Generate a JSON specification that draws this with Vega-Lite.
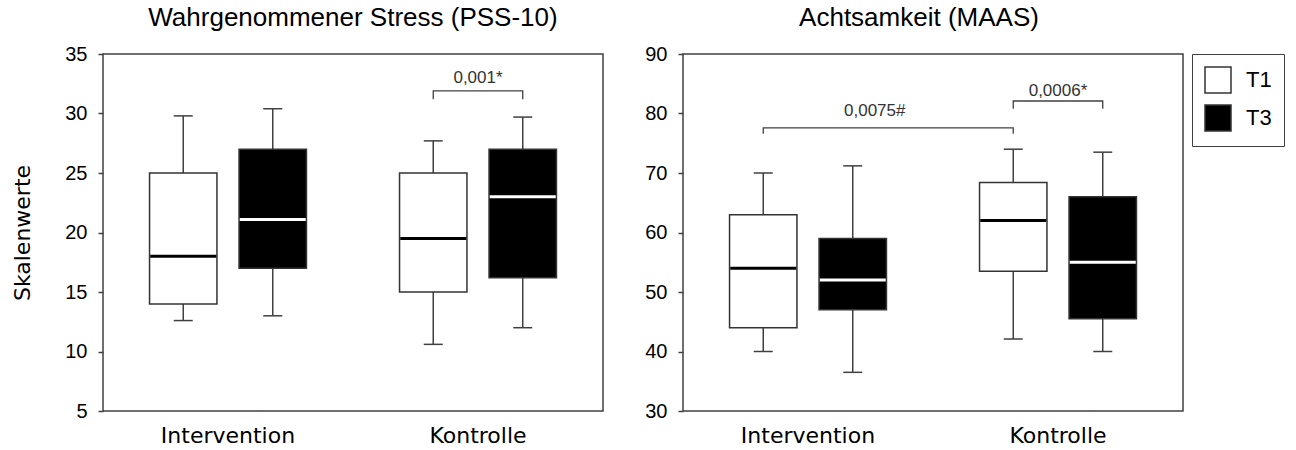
{
  "$schema": "https://vega.github.io/schema/vega-lite/v6.json",
  "background": "white",
  "padding": {"left": 11, "top": 4, "right": 0, "bottom": 0},
  "spacing": 40,
  "datasets": {
    "pss": [
      {"group": "Intervention", "time": "T1", "low": 12.6, "q1": 14.0, "median": 18.0, "q3": 25.0, "high": 29.8},
      {"group": "Intervention", "time": "T3", "low": 13.0, "q1": 17.0, "median": 21.1, "q3": 27.0, "high": 30.4},
      {"group": "Kontrolle", "time": "T1", "low": 10.6, "q1": 15.0, "median": 19.5, "q3": 25.0, "high": 27.7},
      {"group": "Kontrolle", "time": "T3", "low": 12.0, "q1": 16.2, "median": 23.0, "q3": 27.0, "high": 29.7}
    ],
    "maas": [
      {"group": "Intervention", "time": "T1", "low": 40.0, "q1": 44.0, "median": 54.0, "q3": 63.0, "high": 70.0},
      {"group": "Intervention", "time": "T3", "low": 36.5, "q1": 47.0, "median": 52.0, "q3": 59.0, "high": 71.2},
      {"group": "Kontrolle", "time": "T1", "low": 42.1, "q1": 53.5, "median": 62.0, "q3": 68.4, "high": 74.0},
      {"group": "Kontrolle", "time": "T3", "low": 40.0, "q1": 45.5, "median": 55.0, "q3": 66.0, "high": 73.5}
    ],
    "pss_br": [
      {"id": "a", "ord": 1, "group": "Kontrolle", "time": "T1", "y": 31.2},
      {"id": "a", "ord": 2, "group": "Kontrolle", "time": "T1", "y": 31.9},
      {"id": "a", "ord": 3, "group": "Kontrolle", "time": "T3", "y": 31.9},
      {"id": "a", "ord": 4, "group": "Kontrolle", "time": "T3", "y": 31.2}
    ],
    "maas_br": [
      {"id": "a", "ord": 1, "group": "Intervention", "time": "T1", "y": 76.6},
      {"id": "a", "ord": 2, "group": "Intervention", "time": "T1", "y": 77.6},
      {"id": "a", "ord": 3, "group": "Kontrolle", "time": "T1", "y": 77.6},
      {"id": "a", "ord": 4, "group": "Kontrolle", "time": "T1", "y": 76.6},
      {"id": "b", "ord": 1, "group": "Kontrolle", "time": "T1", "y": 80.8},
      {"id": "b", "ord": 2, "group": "Kontrolle", "time": "T1", "y": 82.1},
      {"id": "b", "ord": 3, "group": "Kontrolle", "time": "T3", "y": 82.1},
      {"id": "b", "ord": 4, "group": "Kontrolle", "time": "T3", "y": 80.8}
    ],
    "pss_txt": [
      {"group": "Kontrolle", "y": 33.0, "label": "0,001*"}
    ],
    "maas_txt_a": [
      {"group": "Kontrolle", "y": 83.8, "label": "0,0006*"}
    ],
    "maas_txt_b": [
      {"group": "Intervention", "time": "T3", "y": 80.4, "label": "0,0075#"}
    ]
  },
  "config": {
    "view": {"stroke": "#404040", "strokeWidth": 1.5},
    "font": "Liberation Sans",
    "tick": {"opacity": 1},
    "axis": {"grid": false, "domain": false, "labelColor": "black", "tickColor": "#404040", "titleColor": "black"},
    "axisX": {"ticks": false, "labelAngle": 0, "labelFont": "DejaVu Sans", "labelFontSize": 22, "labelPadding": 14},
    "axisY": {"tickSize": 5, "tickWidth": 1.5, "labelFont": "Liberation Sans", "labelFontSize": 20, "labelPadding": 11, "titleFont": "DejaVu Sans", "titleFontSize": 22, "titleFontWeight": "normal", "titlePadding": 30},
    "title": {"fontSize": 26, "fontWeight": "normal", "font": "Liberation Sans", "color": "black"}
  },
  "resolve": {"legend": {"fill": "independent"}, "scale": {"fill": "independent"}},
  "hconcat": [
    {
      "width": 500,
      "height": 357,
      "title": {"text": "Wahrgenommener Stress (PSS-10)", "anchor": "middle", "frame": "group", "offset": -13, "baseline": "bottom"},
      "encoding": {
        "x": {"field": "group", "type": "nominal", "sort": ["Intervention", "Kontrolle"], "title": null, "scale": {"paddingInner": 0, "paddingOuter": 0}}
      },
      "layer": [
        {
          "data": {"name": "pss"},
          "mark": {"type": "rule", "color": "#404040", "strokeWidth": 1.5},
          "encoding": {
            "xOffset": {"field": "time", "type": "nominal", "sort": ["T1", "T3"], "scale": {"paddingInner": 0.247, "paddingOuter": 0.52}},
            "y": {"field": "low", "type": "quantitative", "title": "Skalenwerte", "scale": {"domain": [5, 35], "nice": false, "zero": false}, "axis": {"values": [5, 10, 15, 20, 25, 30, 35]}},
            "y2": {"field": "high"}
          }
        },
        {
          "data": {"name": "pss"},
          "mark": {"type": "tick", "color": "#404040", "thickness": 1.5, "size": 19, "opacity": 1},
          "encoding": {
            "xOffset": {"field": "time", "type": "nominal", "sort": ["T1", "T3"]},
            "y": {"field": "low", "type": "quantitative", "title": "Skalenwerte"}
          }
        },
        {
          "data": {"name": "pss"},
          "mark": {"type": "tick", "color": "#404040", "thickness": 1.5, "size": 19, "opacity": 1},
          "encoding": {
            "xOffset": {"field": "time", "type": "nominal", "sort": ["T1", "T3"]},
            "y": {"field": "high", "type": "quantitative", "title": "Skalenwerte"}
          }
        },
        {
          "data": {"name": "pss"},
          "mark": {"type": "bar", "stroke": "#333333", "strokeWidth": 1.5, "opacity": 1},
          "encoding": {
            "xOffset": {"field": "time", "type": "nominal", "sort": ["T1", "T3"]},
            "y": {"field": "q1", "type": "quantitative", "title": "Skalenwerte"},
            "y2": {"field": "q3"},
            "fill": {"field": "time", "type": "nominal", "scale": {"domain": ["T1", "T3"], "range": ["white", "black"]}, "legend": null}
          }
        },
        {
          "data": {"name": "pss"},
          "mark": {"type": "tick", "thickness": 3, "size": 66, "opacity": 1},
          "encoding": {
            "xOffset": {"field": "time", "type": "nominal", "sort": ["T1", "T3"]},
            "y": {"field": "median", "type": "quantitative", "title": "Skalenwerte"},
            "color": {"condition": {"test": "datum.time === 'T3'", "value": "white"}, "value": "black"}
          }
        },
        {
          "data": {"name": "pss_br"},
          "mark": {"type": "line", "color": "#404040", "strokeWidth": 1.3},
          "encoding": {
            "xOffset": {"field": "time", "type": "nominal", "sort": ["T1", "T3"]},
            "y": {"field": "y", "type": "quantitative", "title": "Skalenwerte"},
            "detail": {"field": "id"},
            "order": {"field": "ord", "type": "quantitative"}
          }
        },
        {
          "data": {"name": "pss_txt"},
          "mark": {"type": "text", "fontSize": 17, "color": "#333333", "font": "Liberation Sans"},
          "encoding": {
            "y": {"field": "y", "type": "quantitative", "title": "Skalenwerte"},
            "text": {"field": "label"}
          }
        }
      ]
    },
    {
      "width": 500,
      "height": 357,
      "title": {"text": "Achtsamkeit (MAAS)", "anchor": "middle", "frame": "group", "offset": -13, "baseline": "bottom", "dx": -14},
      "encoding": {
        "x": {"field": "group", "type": "nominal", "sort": ["Intervention", "Kontrolle"], "title": null, "scale": {"paddingInner": 0, "paddingOuter": 0}}
      },
      "layer": [
        {
          "data": {"name": "maas"},
          "mark": {"type": "rule", "color": "#404040", "strokeWidth": 1.5},
          "encoding": {
            "xOffset": {"field": "time", "type": "nominal", "sort": ["T1", "T3"], "scale": {"paddingInner": 0.247, "paddingOuter": 0.52}},
            "y": {"field": "low", "type": "quantitative", "title": null, "scale": {"domain": [30, 90], "nice": false, "zero": false}, "axis": {"values": [30, 40, 50, 60, 70, 80, 90]}},
            "y2": {"field": "high"}
          }
        },
        {
          "data": {"name": "maas"},
          "mark": {"type": "tick", "color": "#404040", "thickness": 1.5, "size": 19, "opacity": 1},
          "encoding": {
            "xOffset": {"field": "time", "type": "nominal", "sort": ["T1", "T3"]},
            "y": {"field": "low", "type": "quantitative", "title": null}
          }
        },
        {
          "data": {"name": "maas"},
          "mark": {"type": "tick", "color": "#404040", "thickness": 1.5, "size": 19, "opacity": 1},
          "encoding": {
            "xOffset": {"field": "time", "type": "nominal", "sort": ["T1", "T3"]},
            "y": {"field": "high", "type": "quantitative", "title": null}
          }
        },
        {
          "data": {"name": "maas"},
          "mark": {"type": "bar", "stroke": "#333333", "strokeWidth": 1.5, "opacity": 1},
          "encoding": {
            "xOffset": {"field": "time", "type": "nominal", "sort": ["T1", "T3"]},
            "y": {"field": "q1", "type": "quantitative", "title": null},
            "y2": {"field": "q3"},
            "fill": {
              "field": "time", "type": "nominal",
              "scale": {"domain": ["T1", "T3"], "range": ["white", "black"]},
              "legend": {
                "title": null, "orient": "right", "offset": 9,
                "symbolType": "square", "symbolSize": 676, "symbolStrokeColor": "#333333", "symbolStrokeWidth": 1.5, "symbolOpacity": 1,
                "labelFontSize": 22, "labelFont": "Liberation Sans", "labelColor": "black", "labelOffset": 14,
                "strokeColor": "#404040", "padding": 12, "rowPadding": 6
              }
            }
          }
        },
        {
          "data": {"name": "maas"},
          "mark": {"type": "tick", "thickness": 3, "size": 66, "opacity": 1},
          "encoding": {
            "xOffset": {"field": "time", "type": "nominal", "sort": ["T1", "T3"]},
            "y": {"field": "median", "type": "quantitative", "title": null},
            "color": {"condition": {"test": "datum.time === 'T3'", "value": "white"}, "value": "black"}
          }
        },
        {
          "data": {"name": "maas_br"},
          "mark": {"type": "line", "color": "#404040", "strokeWidth": 1.3},
          "encoding": {
            "xOffset": {"field": "time", "type": "nominal", "sort": ["T1", "T3"]},
            "y": {"field": "y", "type": "quantitative", "title": null},
            "detail": {"field": "id"},
            "order": {"field": "ord", "type": "quantitative"}
          }
        },
        {
          "data": {"name": "maas_txt_a"},
          "mark": {"type": "text", "fontSize": 17, "color": "#333333", "font": "Liberation Sans"},
          "encoding": {
            "y": {"field": "y", "type": "quantitative", "title": null},
            "text": {"field": "label"}
          }
        },
        {
          "data": {"name": "maas_txt_b"},
          "mark": {"type": "text", "fontSize": 17, "color": "#333333", "font": "Liberation Sans", "dx": 22},
          "encoding": {
            "xOffset": {"field": "time", "type": "nominal", "sort": ["T1", "T3"]},
            "y": {"field": "y", "type": "quantitative", "title": null},
            "text": {"field": "label"}
          }
        }
      ]
    }
  ]
}
